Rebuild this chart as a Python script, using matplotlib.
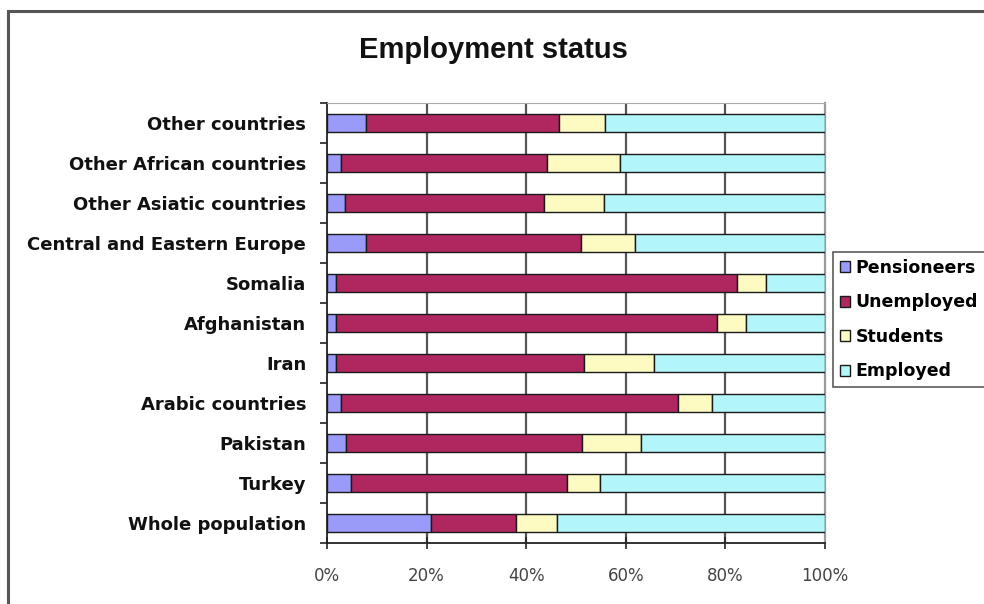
import matplotlib.pyplot as plt
import numpy as np
from matplotlib.patches import Rectangle
from matplotlib.ticker import FixedLocator, PercentFormatter

plt.rcParams['font.family'] = ['DejaVu Sans']

# categories listed bottom to top
groups = ['Whole population', 'Turkey', 'Pakistan', 'Arabic countries', 'Iran',
          'Afghanistan', 'Somalia', 'Central and Eastern Europe',
          'Other Asiatic countries', 'Other African countries', 'Other countries']

pensioneers = [20.9, 4.8, 3.8, 2.9, 1.8, 1.8, 1.9, 7.8, 3.7, 2.9, 7.8]
unemployed = [17.1, 43.3, 47.4, 67.5, 49.8, 76.5, 80.4, 43.3, 39.8, 41.3, 38.7]
students = [8.1, 6.8, 11.9, 7.0, 14.1, 5.8, 5.8, 10.8, 12.1, 14.6, 9.3]
employed = [53.9, 45.1, 36.9, 22.6, 34.3, 15.9, 11.9, 38.1, 44.4, 41.2, 44.2]

series = ['Pensioneers', 'Unemployed', 'Students', 'Employed']
colors = ['#9a9af8', '#b0275f', '#fdfbc2', '#b2f6fa']

fig = plt.figure(figsize=(9.84, 6.04), dpi=100)
W, H = 984, 604
ax = fig.add_axes([327 / W, 1 - 543 / H, (825 - 327) / W, (543 - 103) / H])

# outer chart border
fig.patches.append(Rectangle((8 / W, -0.01), 1.1, 1 - 11 / H + 0.01,
                             transform=fig.transFigure, fill=False,
                             edgecolor='#555555', linewidth=2.2))

y = np.arange(len(groups))
left = np.zeros(len(groups))
for name, vals, col in zip(series, [pensioneers, unemployed, students, employed], colors):
    vals = np.array(vals)
    ax.barh(y, vals, left=left, height=0.47, color=col, edgecolor='#1a1a1a',
            linewidth=1.0, label=name, zorder=3)
    left += vals

ax.set_xlim(0, 100)
ax.set_ylim(-0.5, len(groups) - 0.5)

# vertical gridlines
for gx in [20, 40, 60, 80]:
    ax.axvline(gx, color='#555555', linewidth=1.6, zorder=1)

ax.spines['top'].set_color('#aaaaaa')
ax.spines['right'].set_color('#999999')
ax.spines['right'].set_linewidth(1.6)
ax.spines['left'].set_color('#222222')
ax.spines['bottom'].set_color('#222222')
ax.spines['left'].set_linewidth(1.3)
ax.spines['bottom'].set_linewidth(1.3)

ax.set_xticks([0, 20, 40, 60, 80, 100])
ax.xaxis.set_major_formatter(PercentFormatter(decimals=0))
ax.tick_params(axis='x', direction='inout', length=8, width=1.2, color='#222222',
               labelsize=12, labelcolor='#444444', pad=13)

ax.set_yticks(y)
ax.set_yticklabels(groups, fontsize=13, fontweight='bold', color='#111111')
ax.tick_params(axis='y', which='major', length=0, pad=15)
ax.yaxis.set_minor_locator(FixedLocator(np.arange(-0.5, len(groups), 1.0)))
ax.tick_params(axis='y', which='minor', direction='out', length=5, width=1.2,
               color='#222222')

fig.text(493 / W, 1 - 50 / H, 'Employment status', ha='center', va='center',
         fontsize=21, fontweight='bold', color='#111111',
         family=['Liberation Sans', 'DejaVu Sans'])

leg = ax.legend(loc='upper left', bbox_to_anchor=(833 / W, 1 - 252 / H),
                bbox_transform=fig.transFigure, frameon=True, fancybox=False,
                handlelength=0.6, handleheight=0.6, handletextpad=0.3,
                borderpad=0.4, labelspacing=0.95, borderaxespad=0,
                prop={'weight': 'bold', 'size': 12.5})
leg.get_frame().set_edgecolor('#333333')
leg.get_frame().set_linewidth(1.2)

fig.savefig('out.png', dpi=100)
